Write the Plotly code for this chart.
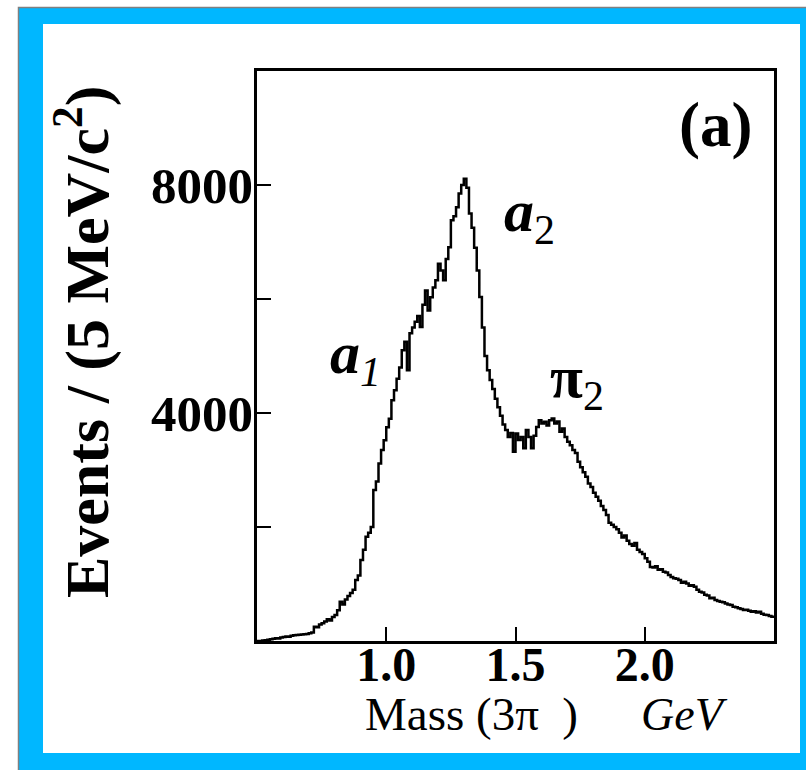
import numpy as np
import plotly.graph_objects as go

# ---- data (10 MeV bins, left edges from 0.50 GeV) ----
bin_start = 0.50
bin_width = 0.01
events = [
    0, 0, 10, 15, 20, 30, 40, 50, 45, 60,
    70, 80, 75, 90, 100, 105, 110, 115, 120, 125,
    135, 150, 250, 240, 290, 310, 340, 380, 360, 420,
    455, 540, 690, 640, 730, 790, 840, 900, 1070, 1150,
    1420, 1600, 1830, 1900, 2000, 2650, 2800, 3115, 3350, 3520,
    3750, 3900, 4225, 4400, 4600, 4800, 5100, 5250, 4750, 5400,
    5500, 5600, 5700, 5510, 5900, 6150, 5800, 6030, 6200, 6330,
    6620, 6500, 6330, 6700, 6910, 7380, 7450, 7610, 7850, 8000,
    8110, 7950, 7500, 7250, 6900, 6500, 6035, 5500, 5000, 4750,
    4580, 4420, 4250, 4100, 3950, 3800, 3700, 3580, 3650, 3320,
    3640, 3525, 3580, 3380, 3700, 3580, 3380, 3600, 3755, 3875,
    3815, 3845, 3780, 3875, 3905, 3815, 3850, 3670, 3730, 3580,
    3495, 3435, 3350, 3300, 3145, 3050, 2960, 2880, 2765, 2700,
    2600, 2530, 2460, 2370, 2300, 2210, 2075, 2040, 2000, 1960,
    1900, 1815, 1850, 1760, 1700, 1670, 1720, 1600, 1560, 1525,
    1450, 1390, 1300, 1290, 1310, 1250, 1260, 1215, 1200, 1160,
    1125, 1100, 1090, 1070, 1020, 1040, 1010, 970, 980, 950,
    900, 865, 850, 810, 800, 750, 760, 720, 700, 690,
    680, 660, 640, 630, 600, 590, 575, 560, 545, 550,
    530, 515, 520, 500, 515, 480, 460, 455, 440, 425,
]

x_tickvals = [1.0, 1.5, 2.0]
x_ticktext = ["1.0", "1.5", "2.0"]
y_tickvals = [2000, 4000, 6000, 8000]
y_ticktext = ["", "4000", "", "8000"]

edges = bin_start + bin_width * np.arange(len(events) + 1)
xs = list(edges)
ys = list(events) + [events[-1]]

SERIF = "Liberation Serif"
BLUE = "#00B7FF"

fig = go.Figure()
fig.add_trace(go.Scatter(
    x=xs, y=ys, mode="lines", line=dict(color="black", width=2.5, shape="hv"),
    hoverinfo="skip", showlegend=False,
))

L, R, T, B = 257, 32, 71, 129
W, H = 806, 770
PW, PH = W - L - R, H - T - B


def px(xp):
    return (xp - L) / PW


def py(yp):
    return (H - B - yp) / PH


fig.update_layout(
    width=W, height=H,
    margin=dict(l=L, r=R, t=T, b=B, pad=0),
    paper_bgcolor="white", plot_bgcolor="white",
    xaxis=dict(
        range=[0.5, 2.5], tickvals=x_tickvals, ticktext=x_ticktext,
        ticks="inside", ticklen=14, tickwidth=2, tickcolor="black",
        showline=True, linewidth=2.5, linecolor="black", mirror=True,
        showgrid=False, zeroline=False, ticklabelstandoff=-20,
        tickfont=dict(family=SERIF, size=48, color="black", weight="bold"),
    ),
    yaxis=dict(
        range=[0, 10000], tickvals=y_tickvals, ticktext=y_ticktext,
        ticks="inside", ticklen=14, tickwidth=2, tickcolor="black",
        showline=True, linewidth=2.5, linecolor="black", mirror=True,
        showgrid=False, zeroline=False, ticklabelstandoff=-9,
        tickfont=dict(family=SERIF, size=51, color="black", weight="bold"),
    ),
)

# frame: blue band with grey outline, white interior
fig.add_shape(type="rect", xref="paper", yref="paper",
              x0=px(18.5), x1=px(812), y0=py(776), y1=py(7.5),
              fillcolor=BLUE, line=dict(color="#808080", width=1.5), layer="below")
fig.add_shape(type="rect", xref="paper", yref="paper",
              x0=px(43), x1=px(800), y0=py(753), y1=py(24),
              fillcolor="white", line=dict(width=0), layer="below")

ann = []
ann.append(dict(text="<b>Events / (5 MeV/c<sup>2</sup>)</b>", textangle=-90,
                x=px(82), y=py(342), font=dict(family=SERIF, size=62, color="black")))
ann.append(dict(text="Mass (3\u03c0\u00a0\u00a0)", x=px(471.5), y=py(714),
                font=dict(family=SERIF, size=47, color="black")))
ann.append(dict(text="<i>GeV</i>", x=px(684), y=py(714),
                font=dict(family=SERIF, size=46, color="black")))
ann.append(dict(text="<b>(a)</b>", x=px(715), y=py(125),
                font=dict(family=SERIF, size=63, color="black")))
ann.append(dict(text="<b><i>a</i></b><sub>2</sub>", x=px(529), y=py(215),
                font=dict(family=SERIF, size=60, color="black")))
ann.append(dict(text="<b><i>a</i></b><sub><i>1</i></sub>", x=px(355), y=py(357),
                font=dict(family=SERIF, size=60, color="black")))
ann.append(dict(text="<b>\u03c0</b><sub>2</sub>", x=px(577), y=py(382),
                font=dict(family=SERIF, size=60, color="black")))
for a in ann:
    a.update(xref="paper", yref="paper", showarrow=False,
             xanchor="center", yanchor="middle")
    fig.add_annotation(**a)

fig.write_html(
    "out.html",
    config={"displayModeBar": False},
    post_script="document.body.style.margin='0';document.body.style.overflow='hidden';",
)
